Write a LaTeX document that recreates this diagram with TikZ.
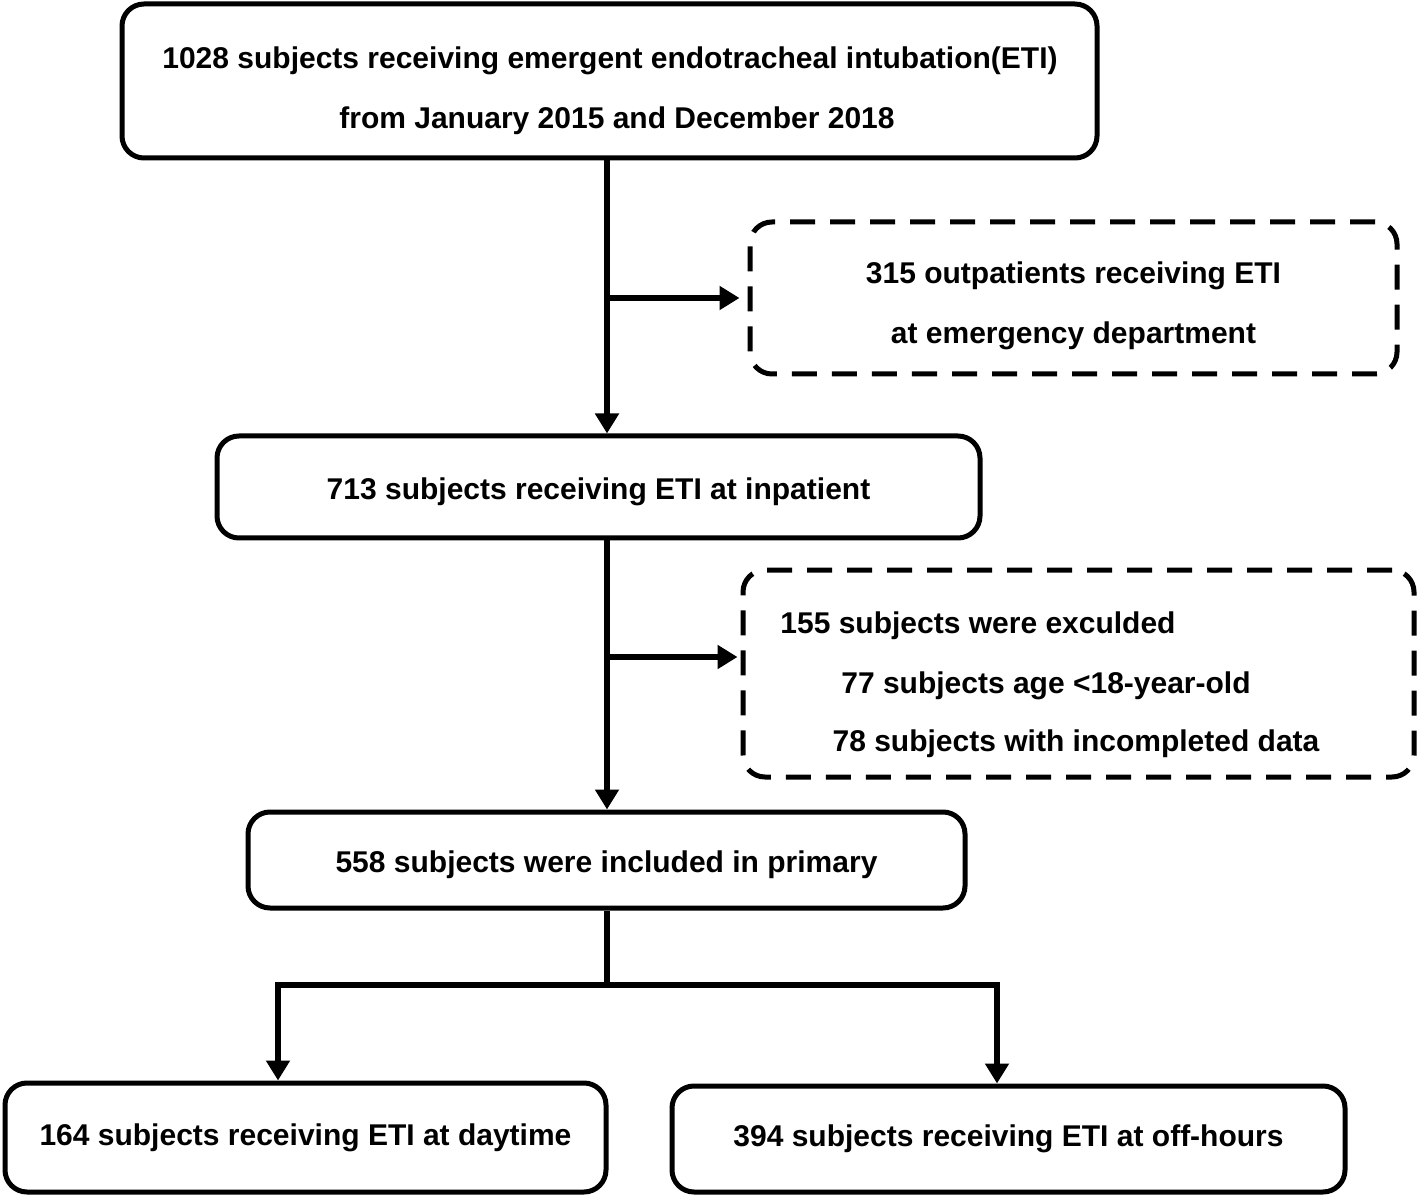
\documentclass[tikz,border=0pt]{standalone}
\usepackage{fontspec}
\setmainfont{Liberation Sans}
\usetikzlibrary{arrows.meta}

\tikzset{every picture/.style={line width=3pt}}
\tikzset{
	solidbox/.style={draw, line width=2.5pt, rounded corners=11pt, inner sep=0pt},
	dashbox/.style={draw, line width=2.5pt, rounded corners=11pt, inner sep=0pt, dash pattern=on 12.5pt off 7.5pt},
	boxtext/.style={font=\bfseries\fontsize{15}{30}\selectfont, align=center},
	arr/.style={-{Triangle[length=10pt,width=11.5pt]}}
}

\begin{document}
\begin{tikzpicture}[x=0.5pt,y=-0.5pt]
	\useasboundingbox (0,0) rectangle (1418,1197);

	% Boxes
	\node [solidbox, minimum width=487.5pt, minimum height=77pt] (top) at (609.5,81) {};
	\node [dashbox, minimum width=323.5pt, minimum height=76pt] (out) at (1073.5,298) {};
	\node [solidbox, minimum width=381.5pt, minimum height=51pt] (inp) at (598.5,487) {};
	\node [dashbox, minimum width=335.5pt, minimum height=103.5pt] (excl) at (1078.5,673.5) {};
	\node [solidbox, minimum width=358.5pt, minimum height=48pt] (prim) at (606.5,860) {};
	\node [solidbox, minimum width=300.5pt, minimum height=54.5pt] (day) at (305.5,1137.5) {};
	\node [solidbox, minimum width=336.5pt, minimum height=53pt] (off) at (1008.5,1139) {};

	% Text Node
	\node [boxtext] (topt) at (610,91) {1028 subjects receiving emergent endotracheal intubation(ETI)\\\hspace*{7pt}from January 2015 and December 2018};
	% Text Node
	\node [boxtext] (outt) at (1073.5,306) {315 outpatients receiving ETI\\at emergency department};
	% Text Node
	\node [boxtext] (inpt) at (598.5,492) {713 subjects receiving ETI at inpatient};
	% Text Node
	\node [boxtext] (ex1) at (978,626) {155 subjects were exculded};
	% Text Node
	\node [boxtext] (ex2) at (1046,686) {77 subjects age <18-year-old};
	% Text Node
	\node [boxtext] (ex3) at (1076,744) {78 subjects with incompleted data};
	% Text Node
	\node [boxtext] (primt) at (606.5,865) {558 subjects were included in primary};
	% Text Node
	\node [boxtext] (dayt) at (305.5,1137.5) {164 subjects receiving ETI at daytime};
	% Text Node
	\node [boxtext] (offt) at (1008.5,1139) {394 subjects receiving ETI at off-hours};

	% Coordinates
	\coordinate (b1) at (607,298);
	\coordinate (b2) at (607,657);
	\coordinate (s) at (607,985);
	\coordinate (sl) at (278,985);
	\coordinate (sr) at (997,985);

	%Straight Lines
	\draw [arr] (top.south -| b1) -- (inp.north -| b1);
	\draw [arr, shorten >=4pt] (b1) -- (out.west);
	\draw [arr] (inp.south -| b2) -- (prim.north -| b2);
	\draw [arr, shorten >=1.5pt] (b2) -- (b2 -| excl.west);
	\draw (prim.south -| s) -- (s);
	\draw [arr] (s) -- (sl) -- (sl |- day.north);
	\draw [arr] (s) -- (sr) -- (sr |- off.north);

\end{tikzpicture}
\end{document}
